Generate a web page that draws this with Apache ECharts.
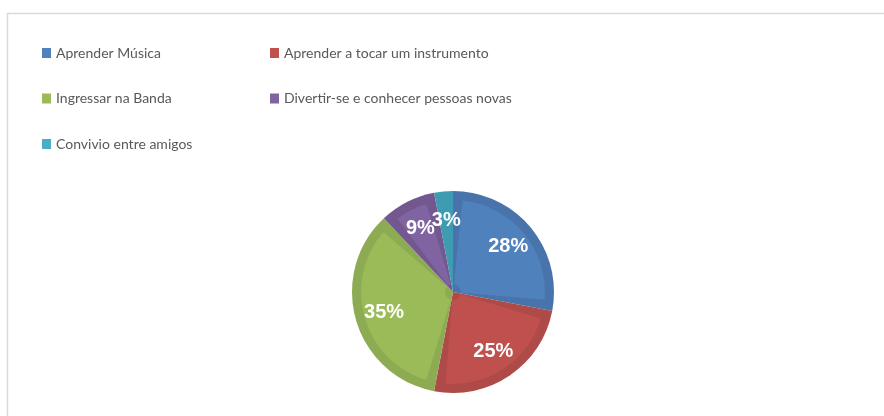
<!DOCTYPE html>
<html>
<head>
<meta charset="utf-8">
<script src="https://cdn.jsdelivr.net/npm/echarts@6/dist/echarts.min.js"></script>
<style>
  html, body { margin: 0; padding: 0; background: #fff; }
  #main { width: 884px; height: 416px; }
</style>
</head>
<body>
<div id="main"></div>
<script>
  // motivos (percent of answers)
  const categories = ['Aprender Música', 'Aprender a tocar um instrumento', 'Ingressar na Banda', 'Divertir-se e conhecer pessoas novas', 'Convivio entre amigos']
  const values = [28, 25, 35, 9, 3]
  const colors = ['#4f81bd', '#c0504d', '#9bbb59', '#8064a2', '#4bacc6']
  const rimColors = ['#4874ab', '#ae4a47', '#8cab52', '#72588f', '#3f9bb1']

  const cx = 453, cy = 292, R = 101
  const legendFont = { fontFamily: 'Lato, "Liberation Sans", sans-serif', fontSize: 14, color: '#595959', lineHeight: 16 }

  const total = values.reduce((a, b) => a + b, 0)
  const pct = values.map(v => Math.round(v / total * 100))

  // label anchors: middle of each slice, in the polar system that overlays the pie
  var cum = 0
  const labelPoints = values.map(v => {
    const mid = cum + v / 2
    cum += v
    return [0.71, mid]
  })

  // bevel look: lighter face of each slice, pulled in from the slice edges
  const bevel = total * 6 / 360
  const faceData = []
  values.forEach((v, i) => {
    const inset = Math.min(bevel, v / 2)
    const gap = { name: '', value: inset, itemStyle: { color: 'rgba(0,0,0,0)' } }
    faceData.push(gap)
    faceData.push({ name: categories[i], value: v - 2 * inset, itemStyle: { color: colors[i] } })
    faceData.push(Object.assign({}, gap))
  })

  const chart = echarts.init(document.getElementById('main'), null, { renderer: 'canvas' })
  chart.setOption({
    animation: false,
    graphic: [{
      type: 'rect',
      shape: { x: 7.5, y: 13.5, width: 900, height: 420 },
      style: { fill: 'none', stroke: '#d9d9d9', lineWidth: 1.5 },
      silent: true, z: -10
    }],
    legend: [
      {
        data: [categories[0], categories[2], categories[4]],
        orient: 'vertical', left: 42, top: 45, padding: 0,
        itemWidth: 9, itemHeight: 10, itemGap: 29.5,
        icon: 'rect', textStyle: legendFont, selectedMode: false
      },
      {
        data: [categories[1], categories[3]],
        orient: 'vertical', left: 270, top: 45, padding: 0,
        itemWidth: 9, itemHeight: 10, itemGap: 29.5,
        icon: 'rect', textStyle: legendFont, selectedMode: false
      }
    ],
    polar: { center: [cx, cy], radius: R },
    angleAxis: { type: 'value', min: 0, max: total, startAngle: 90, clockwise: true, show: false },
    radiusAxis: { type: 'value', min: 0, max: 1, show: false },
    series: [
      {
        // lighter face (first, so the legend takes these colours)
        type: 'pie',
        z: 3,
        center: [cx, cy],
        radius: [8, R - 9],
        startAngle: 90,
        clockwise: true,
        minAngle: 0,
        avoidLabelOverlap: false,
        label: { show: false },
        labelLine: { show: false },
        emphasis: { disabled: true },
        silent: true,
        data: faceData
      },
      {
        // full slices in the darker rim colour
        type: 'pie',
        z: 2,
        center: [cx, cy],
        radius: [0, R],
        startAngle: 90,
        clockwise: true,
        avoidLabelOverlap: false,
        label: { show: false },
        labelLine: { show: false },
        emphasis: { disabled: true },
        data: categories.map((name, i) => ({ name: name, value: values[i], itemStyle: { color: rimColors[i] } }))
      },
      {
        // percentage labels
        type: 'scatter',
        coordinateSystem: 'polar',
        symbolSize: 0,
        silent: true,
        z: 5,
        itemStyle: { opacity: 1 },
        label: {
          show: true, position: 'inside',
          formatter: p => pct[p.dataIndex] + '%',
          color: '#fff', fontWeight: 'bold', fontSize: 20,
          fontFamily: '"Liberation Sans", sans-serif'
        },
        data: labelPoints
      }
    ]
  })
</script>
</body>
</html>
